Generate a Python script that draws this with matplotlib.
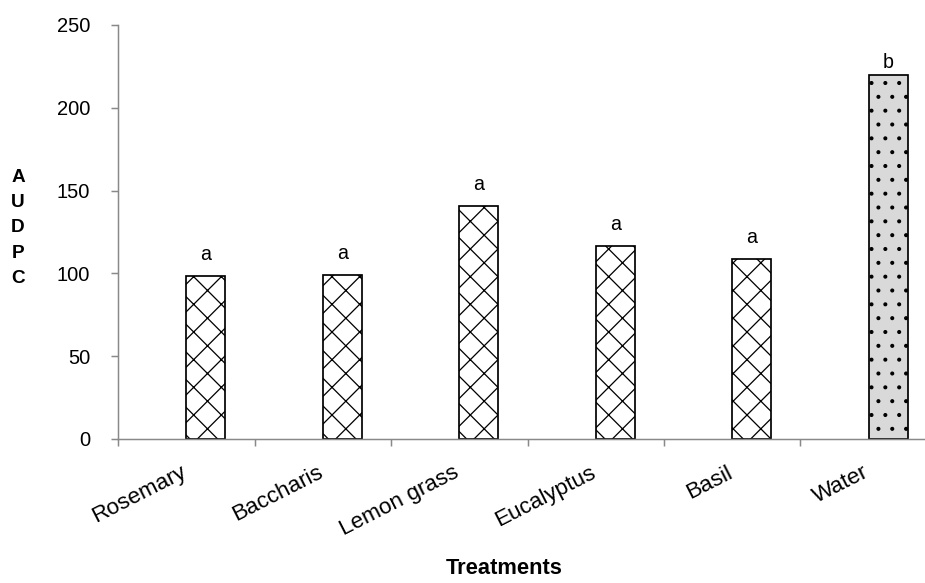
import numpy as np
import matplotlib
matplotlib.use("Agg")
import matplotlib.pyplot as plt
from matplotlib.transforms import ScaledTranslation

# values
treatments = ["Rosemary", "Baccharis", "Lemon grass", "Eucalyptus", "Basil", "Water"]
audpc = [98.5, 99.2, 140.7, 116.3, 108.7, 220.0]
letters = ["a", "a", "a", "a", "a", "b"]
hatches = ["x", "x", "x", "x", "x", "."]
faces = ["white", "white", "white", "white", "white", "#d9d9d9"]

DPI = 83
W, H = 925, 583
AXIS_GREY = "#898989"

plt.rcParams["font.family"] = ["Liberation Sans", "DejaVu Sans"]
plt.rcParams["hatch.linewidth"] = 1.1

fig = plt.figure(figsize=(W / DPI, H / DPI), dpi=DPI)
# the category axis runs past the right edge, like the cropped original
ax = fig.add_axes([118 / W, (H - 439) / H, 819 / W, 414 / H])

x = np.arange(len(treatments))
# bars sit in the right half of each category slot
bars = ax.bar(x + 0.143, audpc, width=0.286, color=faces,
              edgecolor="black", linewidth=1.5, zorder=2)
for bar, h in zip(bars, hatches):
    bar.set_hatch(h)

for xi, v, lab in zip(x, audpc, letters):
    off = 14 if lab == "a" else 6
    ax.annotate(lab, (xi + 0.143, v), xytext=(0, off), textcoords="offset points",
                ha="center", va="baseline", fontsize=17)

ax.set_xlim(-0.5, 5.5)
ax.set_ylim(0, 250)
ax.set_yticks(np.arange(0, 251, 50))

ax.set_xticks(x)
ax.set_xticklabels(treatments, rotation=27, ha="right", rotation_mode="anchor")
ax.set_xticks(np.arange(-0.5, 6, 1), minor=True)
ax.tick_params(axis="x", which="major", length=0, pad=20, labelsize=19.5)
ax.tick_params(axis="x", which="minor", length=6, width=1.3, color=AXIS_GREY, direction="out")
ax.tick_params(axis="y", length=6, width=1.3, color=AXIS_GREY, direction="out",
               labelsize=17.5, pad=18)
# nudge the slanted labels a little to the left
shift = ScaledTranslation(-6 / DPI, 0, fig.dpi_scale_trans)
for lbl in ax.get_xticklabels():
    lbl.set_transform(lbl.get_transform() + shift)

for side in ["top", "right"]:
    ax.spines[side].set_visible(False)
for side in ["left", "bottom"]:
    ax.spines[side].set_color(AXIS_GREY)
    ax.spines[side].set_linewidth(1.3)

fig.text(18 / W, 1 - 228 / H, "\n".join("AUDPC"), ha="center", va="center",
         fontsize=16.5, fontweight="bold", linespacing=1.65)
fig.text(504 / W, 1 - 568 / H, "Treatments", ha="center", va="center",
         fontsize=19, fontweight="bold")

fig.savefig("out.png", dpi=DPI)
